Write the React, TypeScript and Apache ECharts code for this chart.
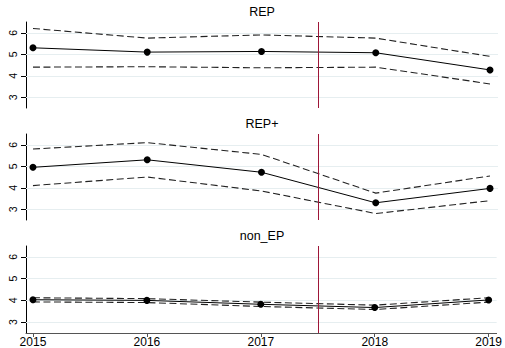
import React, { useEffect, useRef } from "react";
import * as echarts from "echarts";

const years = [2015, 2016, 2017, 2018, 2019];
const panelTitles = ["REP", "REP+", "non_EP"];
const yTicks = [3, 4, 5, 6];

const repMean = [5.3, 5.1, 5.13, 5.07, 4.27];
const repUpper = [6.2, 5.75, 5.9, 5.75, 4.9];
const repLower = [4.4, 4.42, 4.37, 4.4, 3.62];

const repPlusMean = [4.95, 5.3, 4.72, 3.3, 3.97];
const repPlusUpper = [5.8, 6.1, 5.55, 3.75, 4.55];
const repPlusLower = [4.1, 4.5, 3.85, 2.8, 3.4];

const nonEpMean = [4.03, 4.0, 3.82, 3.67, 4.02];
const nonEpUpper = [4.12, 4.08, 3.92, 3.78, 4.12];
const nonEpLower = [3.93, 3.9, 3.72, 3.58, 3.92];

const cutYear = 2017.5;

const panels = [
  { mean: repMean, upper: repUpper, lower: repLower },
  { mean: repPlusMean, upper: repPlusUpper, lower: repPlusLower },
  { mean: nonEpMean, upper: nonEpUpper, lower: nonEpLower },
];

const FONT = "'Liberation Sans', Arial, sans-serif";

export default function App() {
  const ref = useRef<HTMLDivElement>(null);
  useEffect(() => {
    if (!ref.current) return;
    const chart = echarts.init(ref.current, undefined, { renderer: "svg" });
    const gridTops = [22, 134, 246];
    const gridHeights = [86, 86, 87];
    const grids = gridTops.map((t, i) => ({
      left: 26,
      width: 472,
      top: t,
      height: gridHeights[i],
    }));
    const xAxes = panels.map((_, i) => ({
      type: "value",
      gridIndex: i,
      min: 2014.939,
      max: 2019.07,
      interval: 1,
      axisLine: { show: i === 2, lineStyle: { color: "#555", width: 1 } },
      axisTick: {
        show: i === 2,
        length: 4,
        lineStyle: { color: "#555" },
        customValues: years,
      },
      axisLabel: {
        show: i === 2,
        customValues: years,
        color: "#000",
        fontSize: 12,
        fontFamily: FONT,
        margin: 3,
        formatter: (v: number) => String(Math.round(v)),
      },
      splitLine: { show: false },
    }));
    const yAxes = panels.map((_, i) => ({
      type: "value",
      gridIndex: i,
      min: 2.5,
      max: 6.5,
      axisLine: { show: true, onZero: false, lineStyle: { color: "#000", width: 1 } },
      axisTick: { show: true, length: 5, customValues: yTicks, lineStyle: { color: "#000" } },
      axisLabel: {
        customValues: yTicks,
        rotate: 90,
        color: "#000",
        fontSize: 10.5,
        fontFamily: FONT,
        margin: 8,
      },
      splitLine: { show: false },
    }));
    const series: any[] = [];
    panels.forEach((p, i) => {
      const toData = (arr: number[]) => years.map((y, k) => [y, arr[k]]);
      series.push({
        type: "line",
        xAxisIndex: i,
        yAxisIndex: i,
        data: toData(p.lower),
        symbol: "none",
        z: 2,
        lineStyle: { color: "#222", width: 1.1, type: [7, 3.5] },
        markLine: {
          silent: true,
          symbol: ["none", "none"],
          label: { show: false },
          z: 1,
          lineStyle: { color: "#e6eef0", width: 1, type: "solid" },
          data: yTicks.map((v) => ({ yAxis: v })),
        },
      });
      series.push({
        type: "line",
        xAxisIndex: i,
        yAxisIndex: i,
        data: toData(p.upper),
        symbol: "none",
        z: 2,
        lineStyle: { color: "#222", width: 1.1, type: [7, 3.5] },
      });
      series.push({
        type: "line",
        xAxisIndex: i,
        yAxisIndex: i,
        data: toData(p.mean),
        symbol: "circle",
        symbolSize: 7,
        z: 3,
        itemStyle: { color: "#000" },
        lineStyle: { color: "#000", width: 1 },
        markLine: {
          silent: true,
          symbol: ["none", "none"],
          label: { show: false },
          lineStyle: { color: "#9e1638", width: 1, type: "solid" },
          data: [{ xAxis: cutYear }],
        },
      });
    });
    const graphic = panelTitles.map((t, i) => ({
      type: "text",
      x: 262,
      y: gridTops[i] - 10,
      style: {
        text: t,
        align: "center",
        verticalAlign: "middle",
        fontSize: 12.5,
        fontFamily: FONT,
        fill: "#000",
      },
    }));
    chart.setOption({
      animation: false,
      backgroundColor: "#fff",
      grid: grids,
      xAxis: xAxes,
      yAxis: yAxes,
      series,
      graphic,
    });
    return () => chart.dispose();
  }, []);
  return (
    <div
      ref={ref}
      style={{ position: "fixed", left: 0, top: 0, width: 505, height: 348 }}
    />
  );
}
